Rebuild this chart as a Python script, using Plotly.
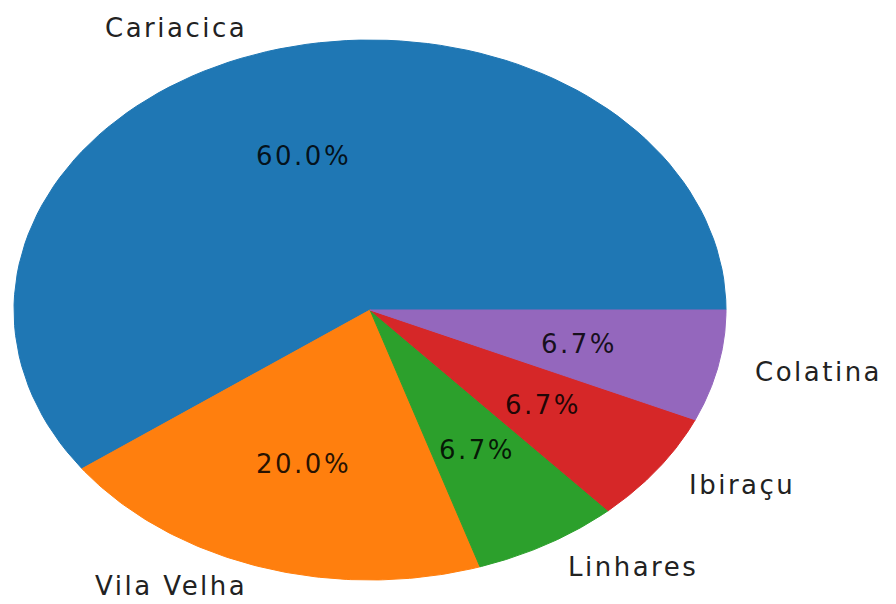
import numpy as np
import plotly.graph_objects as go

# Data
cities = ['Cariacica', 'Vila Velha', 'Linhares', 'Ibiraçu', 'Colatina']
counts = [9, 3, 1, 1, 1]
colors = ['#1f77b4', '#ff7f0e', '#2ca02c', '#d62728', '#9467bd']

total = sum(counts)
fracs = [c / total for c in counts]

fig = go.Figure()

# Wedges drawn as filled polygons (matplotlib style: start at 3 o'clock, counterclockwise)
start = 0.0
annotations = []
for city, frac, col in zip(cities, fracs, colors):
    end = start + frac * 360
    th = np.radians(np.linspace(start, end, 100))
    xs = np.concatenate([[0], np.cos(th), [0]])
    ys = np.concatenate([[0], np.sin(th), [0]])
    fig.add_trace(go.Scatter(
        x=xs, y=ys, mode='lines', fill='toself', fillcolor=col,
        line=dict(color=col, width=1), hoverinfo='skip', showlegend=False
    ))
    mid = np.radians((start + end) / 2)
    # outer label at 1.1 r
    lx, ly = 1.1 * np.cos(mid), 1.1 * np.sin(mid)
    annotations.append(dict(
        x=lx, y=ly, text='<span style="letter-spacing:2.5px">%s</span>' % city,
        showarrow=False, xanchor='left' if lx > 0 else 'right', yanchor='middle',
        yshift=6 if ly < -1.0 else 0,  # keep the bottom label inside the page
        font=dict(family='DejaVu Sans', size=26, color='#222222')
    ))
    # percentage at 0.6 r
    annotations.append(dict(
        x=0.6 * np.cos(mid), y=0.6 * np.sin(mid),
        text='<span style="letter-spacing:2.5px">%.1f%%</span>' % (frac * 100),
        showarrow=False, xanchor='center', yanchor='middle',
        font=dict(family='DejaVu Sans', size=26, color='rgba(0,0,0,0.85)')
    ))
    start = end

# page has an 8px body margin, so centre the pie at (362, 302) inside the figure
fig.update_layout(
    width=888, height=596,
    margin=dict(l=0, r=0, t=0, b=0),
    paper_bgcolor='white', plot_bgcolor='white',
    xaxis=dict(range=[-362 / 356, 526 / 356], visible=False),
    yaxis=dict(range=[-294 / 270, 302 / 270], visible=False),
    annotations=annotations,
)

fig.write_html("out.html")
